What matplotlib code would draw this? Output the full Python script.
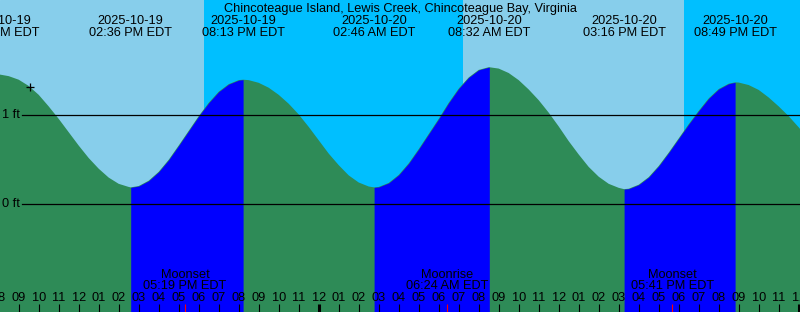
import numpy as np
import matplotlib
matplotlib.use("Agg")
import matplotlib.pyplot as plt
from matplotlib.transforms import blended_transform_factory

plt.rcParams['font.family'] = ['Liberation Sans', 'DejaVu Sans']

# =========================================
# DATA (hours from midnight 2025-10-20, EDT)
# =========================================

title = "Chincoteague Island, Lewis Creek, Chincoteague Bay, Virginia"

# tide height read every half hour, from -16.5 h to +24.5 h
sample_hours = np.arange(-16.5, 24.51, 0.5)
tide_ft = [
    1.45, 1.46, 1.44, 1.40, 1.33, 1.23, 1.10, 0.96, 0.81, 0.66,
    0.52, 0.40, 0.30, 0.23, 0.195, 0.205, 0.265, 0.365, 0.50, 0.66,
    0.825, 0.99, 1.14, 1.265, 1.35, 1.395, 1.395, 1.365, 1.31, 1.23,
    1.13, 1.01, 0.87, 0.72, 0.57, 0.44, 0.325, 0.245, 0.20, 0.195,
    0.24, 0.33, 0.46, 0.62, 0.79, 0.96, 1.14, 1.30, 1.425, 1.51,
    1.54, 1.525, 1.475, 1.395, 1.29, 1.17, 1.03, 0.875, 0.71, 0.56,
    0.42, 0.31, 0.23, 0.185, 0.175, 0.22, 0.305, 0.43, 0.58, 0.74,
    0.90, 1.05, 1.19, 1.295, 1.355, 1.368, 1.34, 1.285, 1.20, 1.10,
    0.99, 0.865, 0.73,
]

# highs and lows
ext_hours = [-16.03, -9.40, -3.78, 2.77, 8.53, 15.27, 20.82]
ext_ft = [1.46, 0.19, 1.40, 0.19, 1.54, 0.17, 1.37]
ext_date = ["2025-10-19", "2025-10-19", "2025-10-19",
            "2025-10-20", "2025-10-20", "2025-10-20", "2025-10-20"]
ext_time = ["07:58 AM EDT", "02:36 PM EDT", "08:13 PM EDT", "02:46 AM EDT",
            "08:32 AM EDT", "03:16 PM EDT", "08:49 PM EDT"]

# night (sunset -> sunrise)
night_start = [-5.73, 18.27]
night_end = [7.22, 25.0]

# moon events
moon_hours = [-6.68, 6.40, 17.68]
moon_kind = ["Moonset", "Moonrise", "Moonset"]
moon_time = ["05:19 PM EDT", "06:24 AM EDT", "05:41 PM EDT"]

# current time mark
now_hour = -14.43
now_ft = 1.32

hour_ticks = list(range(-16, 25))

# =========================================
# STYLE
# =========================================

day_col = "#87CEEB"
night_col = "#00BFFF"
flood_col = "#0000FF"
ebb_col = "#2E8B57"
fs = 9.2

H = 312.0
x0_px, px_per_h = 318.7, 20.0
y1_px, px_per_ft = 115.3, 89.0


def ypix(p):
    # pixel row -> axes fraction
    return 1.0 - p / H


fig = plt.figure(figsize=(8, 3.12), dpi=100)
ax = fig.add_axes([0, 0, 1, 1])
ax.set_xlim(-x0_px / px_per_h, (800 - x0_px) / px_per_h)
ax.set_ylim(1 - (H - y1_px) / px_per_ft, 1 + y1_px / px_per_ft)
ax.axis("off")
ax.add_patch(plt.Rectangle((0, 0), 1, 1, transform=ax.transAxes,
                           color=day_col, zorder=0))

for s, e in zip(night_start, night_end):
    ax.axvspan(s, e, color=night_col, lw=0, zorder=1)

# tide curve with extremes merged in
t = np.concatenate([sample_hours, ext_hours])
h = np.concatenate([tide_ft, ext_ft])
order = np.argsort(t)
t, h = t[order], h[order]

bottom = ax.get_ylim()[0]
ax.fill_between(t, h, bottom, color=ebb_col, lw=0, zorder=2)
for i in range(len(ext_hours) - 1):
    if ext_ft[i] < ext_ft[i + 1]:
        m = (t >= ext_hours[i]) & (t <= ext_hours[i + 1])
        ax.fill_between(t[m], h[m], bottom, color=flood_col, lw=0, zorder=3)

# datum lines
for lev in [0, 1]:
    ax.axhline(lev, xmin=22 / 800, xmax=1, color="black", lw=0.9, zorder=4)
    ax.text(20 / 800, lev, f"{lev} ft", transform=blended_transform_factory(ax.transAxes, ax.transData),
            ha="right", va="center", fontsize=fs, zorder=5)

ax.plot([now_hour], [now_ft], marker="+", color="black", ms=6, mew=0.9, zorder=5)

xt = ax.get_xaxis_transform()

# title and extreme labels
ax.text(0.5, ypix(12), title, transform=ax.transAxes, ha="center",
        va="baseline", fontsize=fs, zorder=6)
for hr, d, tm in zip(ext_hours, ext_date, ext_time):
    ax.text(hr, ypix(24), d, transform=xt, ha="center", va="baseline", fontsize=fs, zorder=6)
    ax.text(hr, ypix(36), tm, transform=xt, ha="center", va="baseline", fontsize=fs, zorder=6)

# hour axis
for hr in hour_ticks:
    h12 = (hr % 24) % 12 or 12
    ax.text(hr, ypix(301), f"{h12:02d}", transform=xt, ha="center",
            va="baseline", fontsize=fs, zorder=6)
    thick = (hr % 24) == 0
    ax.vlines(hr, ypix(312), ypix(304), transform=xt, color="black",
              lw=2.2 if thick else 0.8, zorder=6)

# moon events
for hr, k, tm in zip(moon_hours, moon_kind, moon_time):
    ax.vlines(hr, ypix(312), ypix(304), transform=xt, color="red", lw=0.8, zorder=6)
    ax.text(hr, ypix(278), k, transform=xt, ha="center", va="baseline", fontsize=fs, zorder=6)
    ax.text(hr, ypix(289), tm, transform=xt, ha="center", va="baseline", fontsize=fs, zorder=6)

fig.savefig("out.png", dpi=100)
